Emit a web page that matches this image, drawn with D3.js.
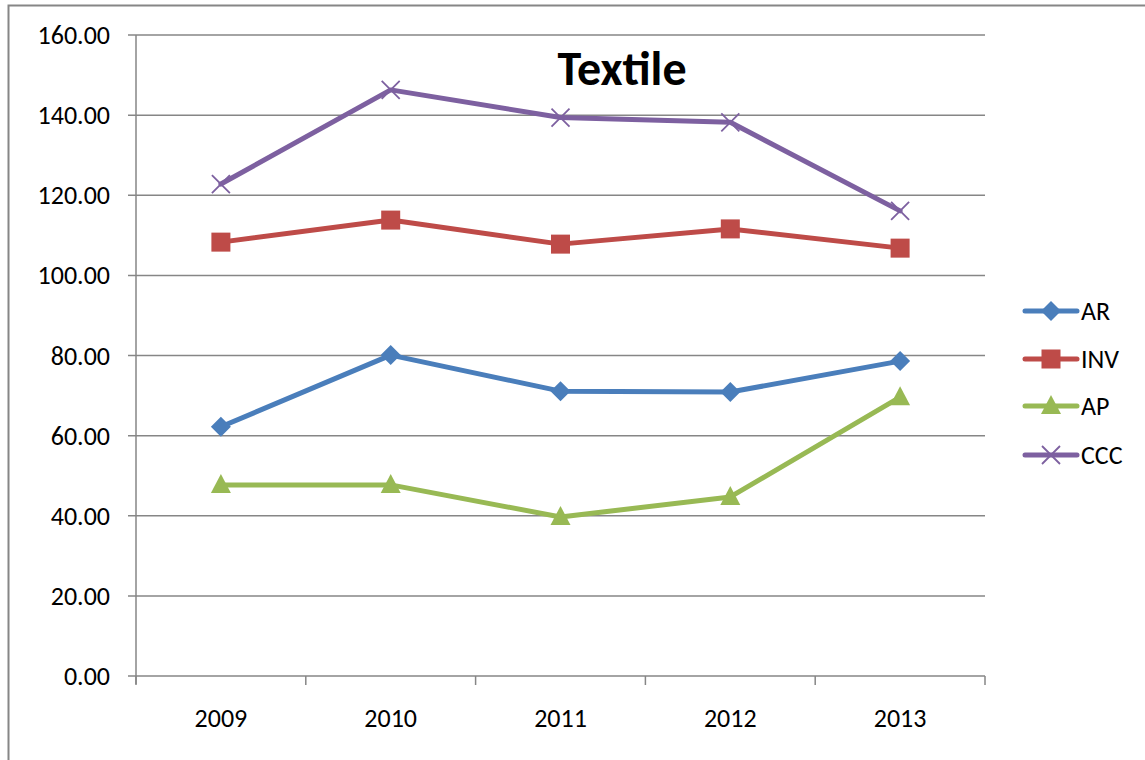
<!DOCTYPE html>
<html><head><meta charset="utf-8">
<script src="https://cdn.jsdelivr.net/npm/d3@7/dist/d3.min.js"></script>
<style>body{margin:0;background:#fff}svg{display:block}text{font-family:Carlito,Lato,"Open Sans",sans-serif}</style>
</head><body><svg id="c" width="1145" height="760"></svg>
<script>
const categories = ["2009","2010","2011","2012","2013"];
const seriesNames = ["AR","INV","AP","CCC"];
const AR  = [62.2, 80.1, 71.1, 70.9, 78.6];
const INV = [108.3, 113.8, 107.8, 111.6, 106.8];
const AP  = [47.7, 47.7, 39.7, 44.7, 69.6];
const CCC = [122.8, 146.3, 139.4, 138.2, 116.1];
const yTicks = [0,20,40,60,80,100,120,140,160];
const colors = {AR:"#4a7ebb", INV:"#be4b48", AP:"#98b954", CCC:"#7d60a0"};
const values = {AR, INV, AP, CCC};

const svg = d3.select("#c");
const L=136, R=985, T=35, B=676;
svg.append("rect").attr("x",8.5).attr("y",5.5).attr("width",1145).attr("height",780).attr("fill","none").attr("stroke","#868686").attr("stroke-width",2);

const x = d3.scaleBand().domain(categories).range([L,R]);
const y = d3.scaleLinear().domain([0,160]).range([B,T]);

svg.append("g").selectAll("line").data(yTicks).join("line")
  .attr("x1",L-8).attr("x2",R).attr("y1",d=>y(d)).attr("y2",d=>y(d))
  .attr("stroke","#868686").attr("stroke-width",1.5);
svg.append("g").selectAll("text").data(yTicks).join("text")
  .attr("x",L-26).attr("y",d=>y(d)).attr("dy","0.35em").attr("text-anchor","end")
  .attr("font-size",26).attr("fill","#000").text(d=>d.toFixed(2));
svg.append("line").attr("x1",L).attr("x2",L).attr("y1",T).attr("y2",B+8).attr("stroke","#868686").attr("stroke-width",1.5);
const xt = categories.map(c=>x(c)+x.bandwidth()).concat([L]);
svg.append("g").selectAll("line").data(xt).join("line")
  .attr("x1",d=>d).attr("x2",d=>d).attr("y1",B).attr("y2",B+9).attr("stroke","#868686").attr("stroke-width",1.5);
svg.append("g").selectAll("text").data(categories).join("text")
  .attr("x",d=>x(d)+x.bandwidth()/2).attr("y",B+51).attr("text-anchor","middle")
  .attr("font-size",26).attr("fill","#000").text(d=>d);

svg.append("text").attr("x",622).attr("y",85).attr("text-anchor","middle").attr("font-size",48).attr("font-weight","bold").text("Textile");

function marker(g, name, cx, cy){
  const c=colors[name];
  if(name==="AR") g.append("path").attr("d",`M${cx},${cy-10}L${cx+10},${cy}L${cx},${cy+10}L${cx-10},${cy}Z`).attr("fill",c);
  else if(name==="INV") g.append("rect").attr("x",cx-9.5).attr("y",cy-9.5).attr("width",19).attr("height",19).attr("fill",c);
  else if(name==="AP") g.append("path").attr("d",`M${cx},${cy-11}L${cx+10},${cy+8}L${cx-10},${cy+8}Z`).attr("fill",c);
  else g.append("path").attr("d",`M${cx-9},${cy-9}L${cx+9},${cy+9}M${cx+9},${cy-9}L${cx-9},${cy+9}`).attr("stroke",c).attr("stroke-width",1.8).attr("fill","none");
}

const line = d3.line().x((d,i)=>x(categories[i])+x.bandwidth()/2).y(d=>y(d));
seriesNames.forEach(n=>{
  const g=svg.append("g");
  g.append("path").attr("d",line(values[n])).attr("fill","none").attr("stroke",colors[n]).attr("stroke-width",5).attr("stroke-linejoin","round").attr("stroke-linecap","round");
  values[n].forEach((v,i)=>marker(g,n,x(categories[i])+x.bandwidth()/2,y(v)));
});

const ly=[311,359,406,455];
seriesNames.forEach((n,i)=>{
  const g=svg.append("g");
  g.append("line").attr("x1",1025).attr("x2",1077).attr("y1",ly[i]).attr("y2",ly[i]).attr("stroke",colors[n]).attr("stroke-width",5).attr("stroke-linecap","round");
  marker(g,n,1051,ly[i]);
  g.append("text").attr("x",1081).attr("y",ly[i]).attr("dy","0.35em").attr("font-size",26).text(n);
});
</script></body></html>
